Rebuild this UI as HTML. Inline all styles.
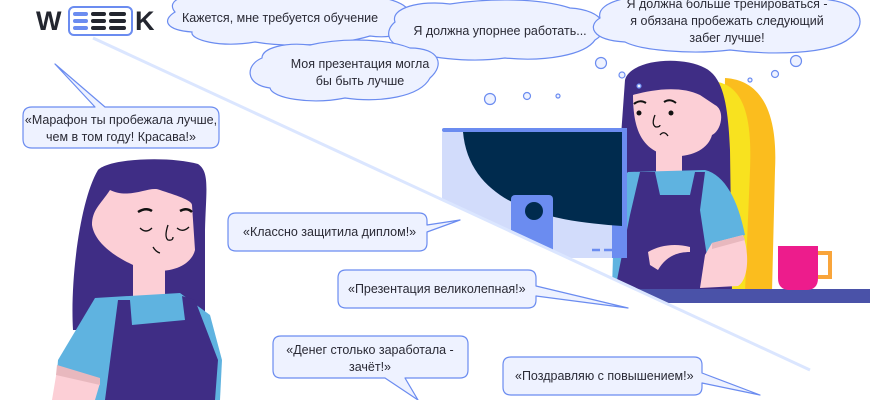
<!DOCTYPE html>
<html><head><meta charset="utf-8"><style>
html,body{margin:0;padding:0;background:#fff;}
svg{display:block;}
text{font-family:"Liberation Sans","Noto Sans CJK SC",sans-serif;font-size:12.5px;fill:#2a2a35;}
</style></head><body>
<svg width="870" height="400" viewBox="0 0 870 400" xmlns="http://www.w3.org/2000/svg">
<defs>
<clipPath id="up"><polygon points="0,-5 870,-5 870,398"/></clipPath>
<clipPath id="down"><polygon points="0,-5 870,398 870,400 0,400"/></clipPath>
</defs>
<!-- logo -->
<text x="36" y="30" style="font-size:27px;font-weight:bold;fill:#23262f">W</text>
<rect x="69" y="7" width="63" height="28" rx="5" fill="none" stroke="#6b8cf0" stroke-width="2"/>
<g stroke-linecap="round" stroke-width="4">
<line x1="75" y1="14" x2="86" y2="14" stroke="#6b8cf0"/><line x1="75" y1="21" x2="86" y2="21" stroke="#6b8cf0"/><line x1="75" y1="28" x2="86" y2="28" stroke="#6b8cf0"/>
<line x1="93" y1="14" x2="104" y2="14" stroke="#23262f"/><line x1="93" y1="21" x2="104" y2="21" stroke="#23262f"/><line x1="93" y1="28" x2="104" y2="28" stroke="#23262f"/>
<line x1="111" y1="14" x2="124" y2="14" stroke="#23262f"/><line x1="111" y1="21" x2="124" y2="21" stroke="#23262f"/><line x1="111" y1="28" x2="124" y2="28" stroke="#23262f"/>
</g>
<text x="135" y="30" style="font-size:27px;font-weight:bold;fill:#23262f">K</text>

<!-- right scene -->
<g clip-path="url(#up)">
<path d="M725,78 C760,80 778,110 775,170 L772,292 L720,292 Z" fill="#fbbd1e"/>
<path d="M718,82 C745,88 752,120 750,170 L745,292 L712,292 Z" fill="#f8e21f"/>
<path d="M625,80 C630,60 680,55 705,68 C725,78 728,110 730,150 L732,292 L618,292 L620,150 Z" fill="#3f2d85"/>
<path d="M633,95 C650,90 680,85 700,95 L715,105 C725,110 722,130 712,135 C708,150 690,158 668,156 C645,150 633,135 633,95 Z" fill="#fccfd6"/>
<rect x="656" y="150" width="26" height="25" fill="#fccfd6"/>
<path d="M628,172 L705,170 C725,175 738,200 745,235 L712,245 L700,290 L612,290 L615,185 Z" fill="#5fb3e0"/>
<path d="M640,172 L655,172 L660,195 L690,195 L695,172 L705,172 L700,210 L712,290 L615,290 L630,215 Z" fill="#3f2d85"/>
<path d="M712,243 L743,235 C750,255 748,280 738,286 L700,288 L705,255 Z" fill="#fccfd6"/>
<path d="M712,243 L743,235 L745,240 L712,249 Z" fill="#e8b8be"/>
<path d="M648,252 C660,245 675,243 690,247 L690,252 C675,252 665,258 658,270 L650,265 Z" fill="#fccfd6"/>
<circle cx="639" cy="113" r="2.5" fill="#111"/><circle cx="671" cy="113" r="2.5" fill="#111"/>
<path d="M634,104 q6,-5 12,-1 M664,102 q6,-4 12,1" stroke="#111" stroke-width="2" fill="none"/>
<path d="M655,115 q-4,10 1,12 q4,0 4,-2 M660,135 q4,-5 8,1" stroke="#111" stroke-width="1.3" fill="none"/>
<rect x="442" y="128" width="185" height="130" rx="6" fill="#d2dcfb"/>
<path d="M442,128 L627,128 L627,258 L612,258 L612,134 Z" fill="#6b8cf0"/>
<rect x="442" y="128" width="185" height="4" rx="2" fill="#6b8cf0"/>
<path d="M463,132 L622,132 L622,226 C560,222 470,210 463,132 Z" fill="#002b4e"/>
<rect x="511" y="195" width="42" height="70" rx="4" fill="#6b8cf0"/>
<circle cx="534" cy="211" r="9" fill="#002b4e"/>
<path d="M592,250 h8 M604,250 h8" stroke="#6b8cf0" stroke-width="2.5"/>
<rect x="630" y="289" width="240" height="14" fill="#4a52a8"/>
<path d="M778,246 L818,246 L818,278 Q818,290 806,290 L790,290 Q778,290 778,278 Z" fill="#ed1c8c"/>
<path d="M818,253 h12 v24 h-12" stroke="#f9a53b" stroke-width="4" fill="none"/>
</g>

<!-- left woman -->
<g clip-path="url(#down)">
<path d="M98,170 C110,158 170,156 198,164 C210,172 206,190 205,230 L205,330 L73,330 C70,280 80,200 98,170 Z" fill="#3f2d85"/>
<path d="M110,190 C130,200 150,185 160,190 C175,195 192,200 192,205 L195,250 C190,270 160,275 140,268 C120,260 95,245 92,225 C92,210 100,205 110,190 Z" fill="#fccfd6"/>
<rect x="133" y="260" width="32" height="40" fill="#fccfd6"/>
<path d="M95,298 L180,293 L210,315 L222,360 L220,400 L55,400 L58,360 Z" fill="#5fb3e0"/>
<path d="M118,300 L130,300 L132,325 L185,320 L182,296 L195,300 L218,360 L215,400 L105,400 Z" fill="#3f2d85"/>
<path d="M57,370 L100,383 L95,400 L52,400 Z" fill="#fccfd6"/>
<path d="M57,365 L100,378 L100,385 L56,375 Z" fill="#e8b8be"/>
<path d="M138,212 q8,-5 14,-1 M180,211 q7,-4 12,1" stroke="#111" stroke-width="2.5" fill="none"/>
<path d="M140,228 q6,6 12,0 M177,228 q6,5 12,-1 M168,225 q-4,12 0,15 q5,1 5,-3 M153,247 q3,5 7,6" stroke="#111" stroke-width="1.3" fill="none"/>
</g>

<!-- diagonal -->
<line x1="93" y1="38" x2="810" y2="370" stroke="#dbe6ff" stroke-width="3"/>

<!-- clouds -->
<g fill="#eef2ff" stroke="#6b8cf0" stroke-width="1.2">
<path d="M175,12 C165,0 185,-8 215,-3 C250,-10 300,-10 335,-3 C370,-8 410,0 410,15 C420,28 400,40 370,36 C340,45 290,48 255,42 C220,48 190,40 192,32 C165,30 162,20 175,12 Z"/>
<path d="M395,22 C390,8 420,0 450,4 C490,-2 540,-2 570,8 C605,10 612,30 595,40 C585,55 545,62 505,58 C470,63 420,58 408,48 C385,45 385,30 395,22 Z"/>
<path d="M262,58 C262,48 285,42 310,45 C340,38 385,38 410,48 C440,48 445,65 430,78 C420,97 380,103 345,98 C310,105 272,98 270,88 C245,85 245,65 262,58 Z"/>
<path d="M600,18 C595,0 640,-8 680,-3 C730,-8 800,-6 830,0 C862,4 868,25 850,38 C830,55 770,55 730,50 C690,55 640,50 625,42 C590,40 588,25 600,18 Z"/>
<circle cx="601" cy="63" r="5.5"/><circle cx="622" cy="75" r="3"/><circle cx="639" cy="86" r="2"/>
<circle cx="490" cy="99" r="5.5"/><circle cx="527" cy="96" r="3.5"/><circle cx="558" cy="96" r="2"/>
<circle cx="796" cy="61" r="5.5"/><circle cx="775" cy="74" r="3.5"/><circle cx="750" cy="80" r="2"/>
</g>
<text x="280" y="22" text-anchor="middle">Кажется, мне требуется обучение</text>
<text x="500" y="35" text-anchor="middle">Я должна упорнее работать...</text>
<text x="360" y="68" text-anchor="middle">Моя презентация могла</text>
<text x="360" y="85" text-anchor="middle">бы быть лучше</text>
<text x="727" y="8" text-anchor="middle">Я должна больше тренироваться -</text>
<text x="727" y="25" text-anchor="middle">я обязана пробежать следующий</text>
<text x="727" y="42" text-anchor="middle">забег лучше!</text>

<!-- speech bubbles -->
<g fill="#eef2ff" stroke="#6b8cf0" stroke-width="1.2" stroke-linejoin="round">
<path d="M32,107 L95,107 L55,64 L105,107 L210,107 Q219,107 219,116 L219,139 Q219,148 210,148 L32,148 Q23,148 23,139 L23,116 Q23,107 32,107 Z"/>
<path d="M236,213 L419,213 Q427,213 427,221 L427,225 L460,220 L427,232 L427,243 Q427,251 419,251 L236,251 Q228,251 228,243 L228,221 Q228,213 236,213 Z"/>
<path d="M346,270 L528,270 Q536,270 536,278 L536,286 L628,308 L536,296 L536,300 Q536,308 528,308 L346,308 Q338,308 338,300 L338,278 Q338,270 346,270 Z"/>
<path d="M281,336 L460,336 Q468,336 468,344 L468,370 Q468,378 460,378 L405,378 L418,400 L385,378 L281,378 Q273,378 273,370 L273,344 Q273,336 281,336 Z"/>
<path d="M511,357 L694,357 Q702,357 702,365 L702,373 L760,395 L702,383 L702,387 Q702,395 694,395 L511,395 Q503,395 503,387 L503,365 Q503,357 511,357 Z"/>
</g>
<text x="121" y="124" text-anchor="middle">«Марафон ты пробежала лучше,</text>
<text x="121" y="141" text-anchor="middle">чем в том году! Красава!»</text>
<text x="243" y="236">«Классно защитила диплом!»</text>
<text x="348" y="293">«Презентация великолепная!»</text>
<text x="370" y="354" text-anchor="middle">«Денег столько заработала -</text>
<text x="370" y="371" text-anchor="middle">зачёт!»</text>
<text x="515" y="380">«Поздравляю с повышением!»</text>
</svg>
</body></html>
